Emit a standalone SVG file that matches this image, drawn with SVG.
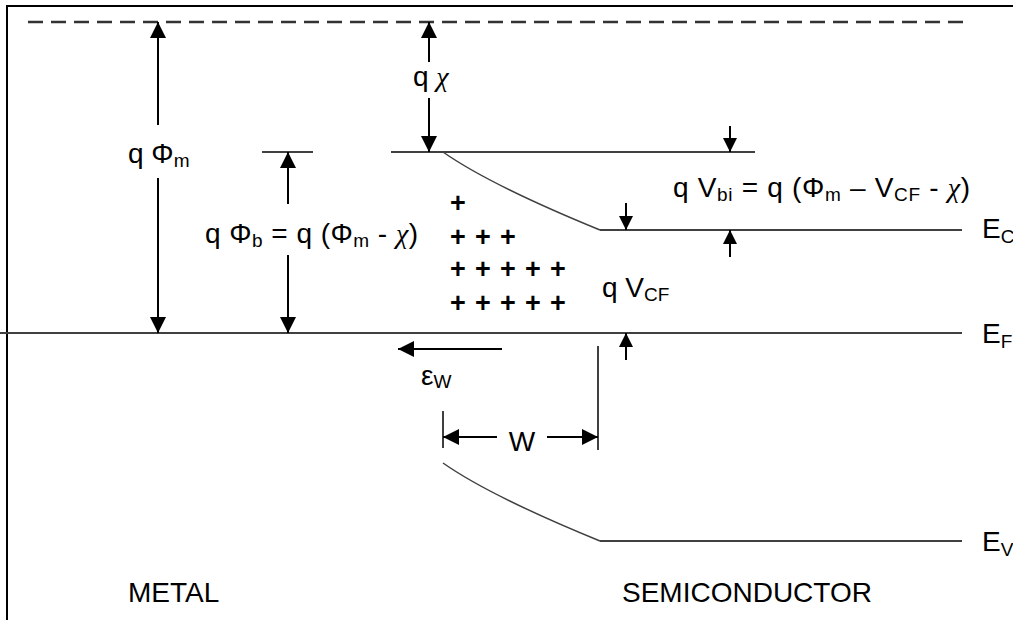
<svg xmlns="http://www.w3.org/2000/svg" width="1013" height="620" viewBox="0 0 1013 620">
  <defs>
    <marker id="ah" viewBox="0 0 10 10" refX="10" refY="5" markerWidth="16" markerHeight="16" markerUnits="userSpaceOnUse" orient="auto">
      <path d="M0,0 L10,5 L0,10 z" fill="#000"/>
    </marker>
    <marker id="ahs" viewBox="0 0 10 10" refX="10" refY="5" markerWidth="14" markerHeight="14" markerUnits="userSpaceOnUse" orient="auto">
      <path d="M0,0 L10,5 L0,10 z" fill="#000"/>
    </marker>
  </defs>
  <style>
    text { font-family: "Liberation Sans", Arial, sans-serif; font-size: 28px; fill: #000; }
    .sub { font-size: 19px; }
    .chi { font-family: "Liberation Serif", "Times New Roman", serif; font-style: italic; }
    .plus { font-weight: bold; font-size: 27px; }
    .band { stroke: #404040; stroke-width: 2; fill: none; }
    .curve { stroke: #404040; stroke-width: 1.5; fill: none; }
    .dima { stroke: #000; stroke-width: 2; fill: none; marker-end: url(#ah); }
    .dims { stroke: #000; stroke-width: 2; fill: none; marker-end: url(#ahs); }
    .frame { stroke: #000; stroke-width: 2; fill: none; }
  </style>
  <rect width="1013" height="620" fill="#fff"/>

  <g id="frame">
    <path class="frame" d="M7,620 L7,6 L1013,6"/>
  </g>

  <g id="vacuum-level">
    <line x1="28" y1="22" x2="965" y2="22" stroke="#333" stroke-width="2.5" stroke-dasharray="15,8"/>
  </g>

  <g id="conduction-band">
    <line class="band" x1="391" y1="152" x2="755" y2="152"/>
    <path class="curve" d="M443,152 Q490,185 600,230"/>
    <line class="band" x1="600" y1="230" x2="962" y2="230"/>
  </g>

  <g id="fermi-level">
    <line class="band" x1="0" y1="333" x2="962" y2="333" stroke="#222"/>
  </g>

  <g id="valence-band">
    <path class="curve" d="M443,463 Q490,496 600,541"/>
    <line class="band" x1="600" y1="541" x2="962" y2="541"/>
  </g>

  <g id="connectors">
    <line class="dima" x1="158" y1="125" x2="158" y2="22"/>
    <line class="dima" x1="158" y1="178" x2="158" y2="333"/>
    <line class="dima" x1="429" y1="62" x2="429" y2="22"/>
    <line class="dima" x1="429" y1="98" x2="429" y2="152"/>
    <line class="band" x1="262" y1="152" x2="313" y2="152"/>
    <line class="dima" x1="288" y1="204" x2="288" y2="152"/>
    <line class="dima" x1="288" y1="255" x2="288" y2="333"/>
    <line class="dims" x1="730" y1="126" x2="730" y2="152"/>
    <line class="dims" x1="730" y1="257" x2="730" y2="230"/>
    <line class="dims" x1="626" y1="203" x2="626" y2="230"/>
    <line class="dims" x1="626" y1="360" x2="626" y2="333"/>
    <line class="dima" x1="502" y1="349" x2="398" y2="349"/>
    <line class="band" x1="598" y1="346" x2="598" y2="450"/>
    <line class="band" x1="443" y1="411" x2="443" y2="448"/>
    <line class="dima" x1="497" y1="437" x2="443" y2="437"/>
    <line class="dima" x1="547" y1="437" x2="598" y2="437"/>
  </g>

  <g id="charges">
    <text class="plus" x="458" y="212" text-anchor="middle">+</text>
    <text class="plus" x="458 483 508" y="246" text-anchor="middle">+++</text>
    <text class="plus" x="458 483 508 533 558" y="278" text-anchor="middle">+++++</text>
    <text class="plus" x="458 483 508 533 558" y="312" text-anchor="middle">+++++</text>
  </g>

  <g id="labels">
    <text x="128" y="163">q Φ<tspan class="sub" dy="4">m</tspan></text>
    <text x="413" y="86">q <tspan class="chi">χ</tspan></text>
    <text x="205" y="243" textLength="213" lengthAdjust="spacing">q Φ<tspan class="sub" dy="4">b</tspan><tspan dy="-4"> = q (Φ</tspan><tspan class="sub" dy="4">m</tspan><tspan dy="-4"> - </tspan><tspan class="chi">χ</tspan>)</text>
    <text x="673" y="197" textLength="297" lengthAdjust="spacing">q V<tspan class="sub" dy="4">bi</tspan><tspan dy="-4"> =  q (Φ</tspan><tspan class="sub" dy="4">m</tspan><tspan dy="-4"> – V</tspan><tspan class="sub" dy="4">CF</tspan><tspan dy="-4"> - </tspan><tspan class="chi">χ</tspan>)</text>
    <text x="602" y="297">q V<tspan class="sub" dy="4">CF</tspan></text>
    <text x="421" y="385">ε<tspan class="sub" dy="3">W</tspan></text>
    <text x="522" y="451" text-anchor="middle">W</text>
    <text x="982" y="238">E<tspan class="sub" dy="5">C</tspan></text>
    <text x="982" y="343">E<tspan class="sub" dy="5">F</tspan></text>
    <text x="982" y="551">E<tspan class="sub" dy="5">V</tspan></text>
    <text x="128" y="602">METAL</text>
    <text x="622" y="602">SEMICONDUCTOR</text>
  </g>
</svg>
